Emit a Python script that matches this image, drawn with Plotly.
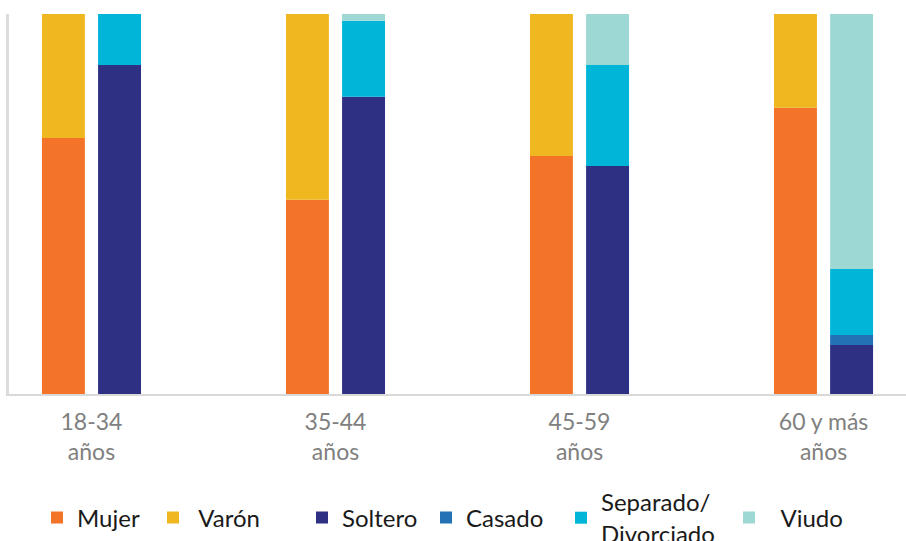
import numpy as np
import plotly.graph_objects as go

categories = ["18-34<br>años", "35-44<br>años", "45-59<br>años", "60 y más<br>años"]

mujer = [67.4, 51.1, 62.6, 75.3]
varon = [32.6, 48.9, 37.4, 24.7]

soltero = [86.6, 78.2, 60.0, 12.9]
casado = [0.0, 0.0, 0.0, 2.6]
separado = [13.4, 20.0, 26.6, 17.4]
viudo = [0.0, 1.8, 13.4, 67.1]

NB = "\u00a0"
sex_series = [("Mujer", mujer, "#F37329"), (NB + "Varón", varon, "#F0B820")]
civil_series = [("Soltero", soltero, "#2E3083"), ("Casado", casado, "#2372B6"),
                ("Separado/<br>Divorciado", separado, "#00B5D8"), (NB * 2 + "Viudo", viudo, "#9ED8D4")]

fig = go.Figure()

BAR_W = 0.176
W, H = 906, 541
marker_centers_px = [56, 172, 321, 445, 580, 748]
li = 0

def add_stack(series, offset):
    global li
    base = np.zeros(len(categories))
    for name, vals, color in series:
        vals = np.array(vals, dtype=float)
        lg = "legend" if li == 0 else f"legend{li+1}"
        fig.add_trace(go.Bar(
            x=categories, y=vals, base=base.copy(), name=name,
            marker=dict(color=color, line=dict(width=0)),
            width=BAR_W, offset=offset, legend=lg,
        ))
        base = base + vals
        li += 1

add_stack(sex_series, -0.203)
add_stack(civil_series, 0.027)

legends = {}
for i, mc in enumerate(marker_centers_px):
    key = "legend" if i == 0 else f"legend{i+1}"
    legends[key] = dict(
        x=(mc - 19) / W, y=1 - 518 / H, xref="container", yref="container",
        xanchor="left", yanchor="middle",
        orientation="h", bgcolor="rgba(0,0,0,0)",
        font=dict(family="Lato", size=24, color="#1a1a1a"),
    )

fig.update_layout(
    width=W, height=H,
    margin=dict(l=9, r=0, t=14, b=147, autoexpand=False),
    paper_bgcolor="white", plot_bgcolor="white",
    barmode="overlay",
    showlegend=True,
    hovermode=False,
    font=dict(family="Lato"),
    xaxis=dict(
        type="category", range=[-0.338, 3.338],
        showline=True, linecolor="#d9d9d9", linewidth=2,
        ticks="", showgrid=False, automargin=False,
        ticklabelstandoff=6,
        tickfont=dict(family="Lato", size=23, color="#808080"),
    ),
    yaxis=dict(
        range=[0, 100], showline=True, linecolor="#dcdcdc", linewidth=3,
        showgrid=False, zeroline=False, showticklabels=False, ticks="",
        automargin=False,
    ),
    **legends,
)

fig.write_html(
    "out.html",
    config={"displayModeBar": False},
    post_script="document.body.style.margin='0px';document.body.style.overflow='hidden';",
)
